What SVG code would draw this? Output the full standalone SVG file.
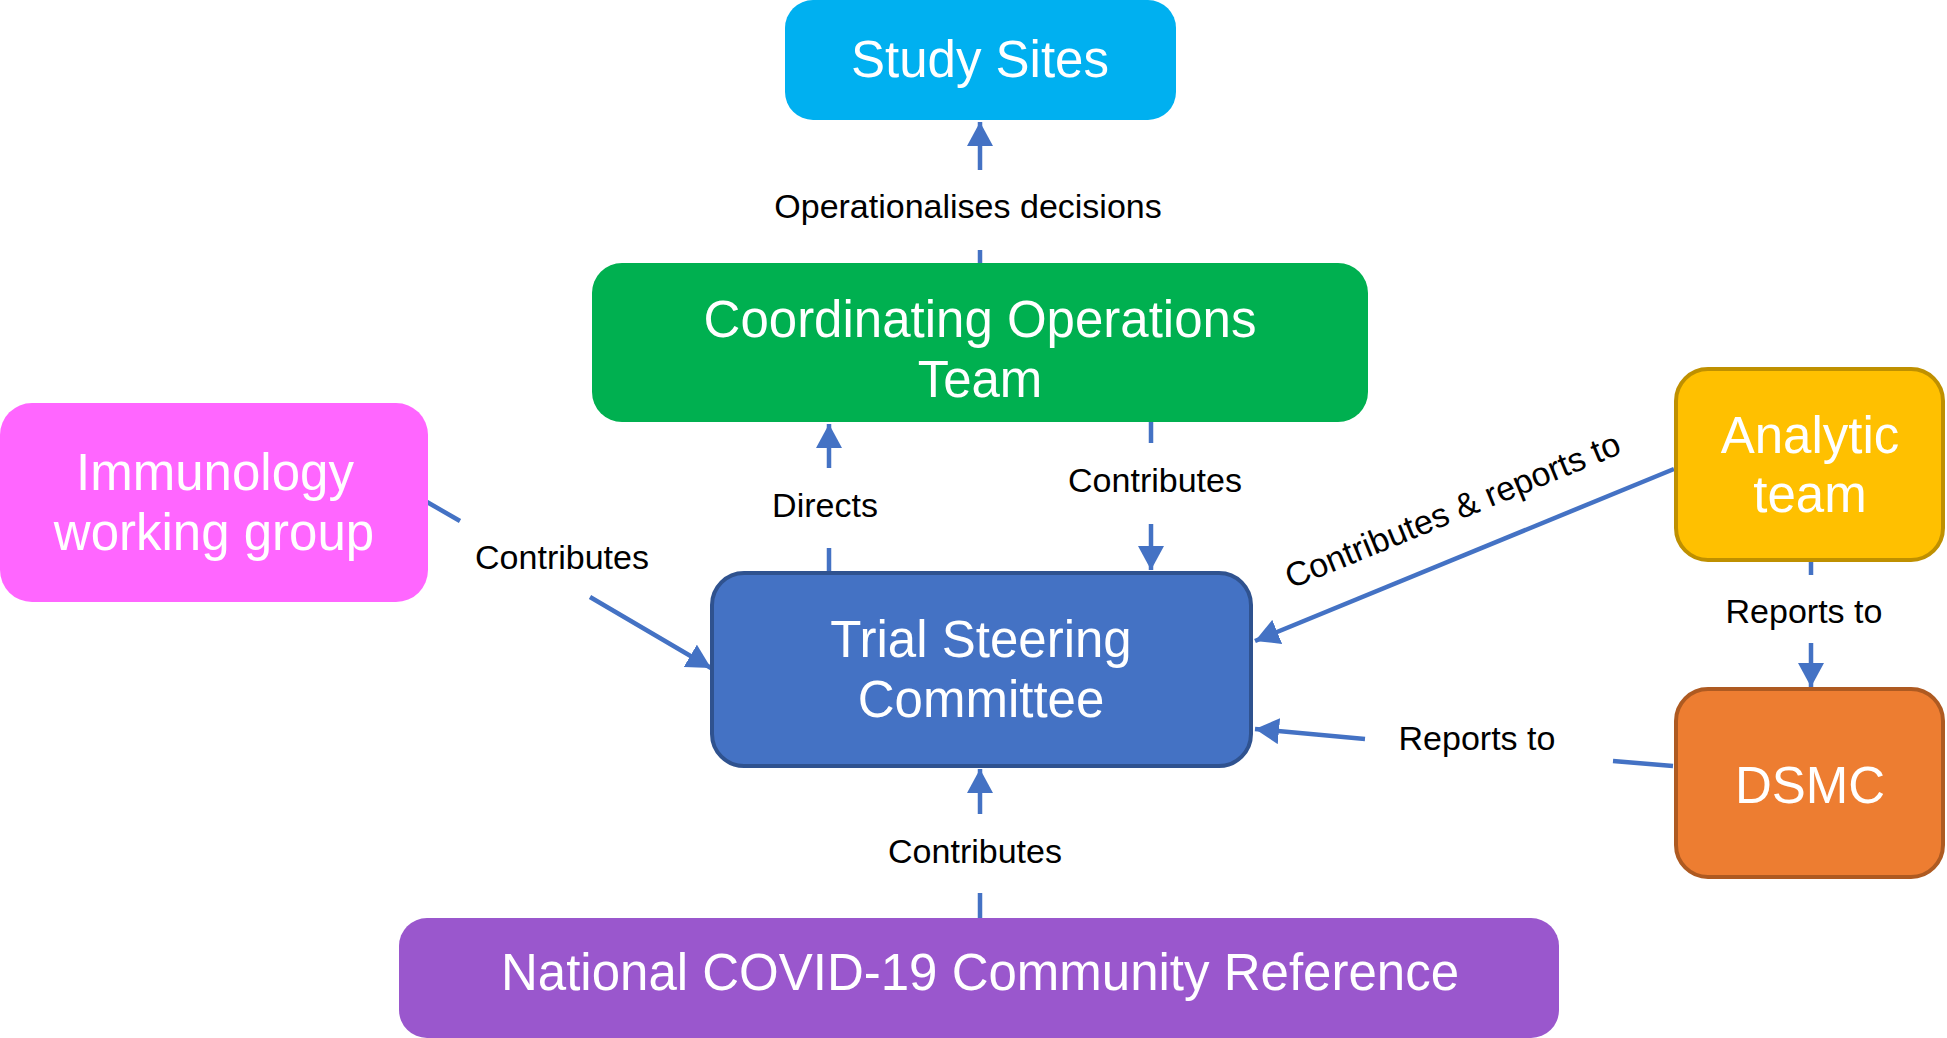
<svg xmlns="http://www.w3.org/2000/svg" width="1947" height="1038" viewBox="0 0 1947 1038">
  <style>
    .node-text { font-family: "Liberation Sans", Arial, sans-serif; font-size: 51px; fill: #FFFFFF; text-anchor: middle; }
    .label { font-family: "Liberation Sans", Arial, sans-serif; font-size: 34px; fill: #000000; text-anchor: middle; }
    .conn { fill: none; stroke: #4472C4; stroke-width: 4.5; }
  </style>
  <defs>
    <marker id="arrow" markerUnits="userSpaceOnUse" markerWidth="26" markerHeight="26" refX="24" refY="13" orient="auto">
      <path d="M0,0 L24,13 L0,26 Z" fill="#4472C4"/>
    </marker>
  </defs>
  <rect width="1947" height="1038" fill="#FFFFFF"/>

  <g id="connectors">
    <path class="conn" d="M980,263 L980,250 M980,170 L980,122" marker-end="url(#arrow)"/>
    <text class="label" x="968" y="218">Operationalises decisions</text>

    <path class="conn" d="M829,571 L829,548 M829,468 L829,424" marker-end="url(#arrow)"/>
    <text class="label" x="825" y="517">Directs</text>

    <path class="conn" d="M1151,422 L1151,443 M1151,524 L1151,570" marker-end="url(#arrow)"/>
    <text class="label" x="1155" y="492">Contributes</text>

    <path class="conn" d="M427,502 L460,521 M590,597 L711,668" marker-end="url(#arrow)"/>
    <text class="label" x="562" y="569">Contributes</text>

    <path class="conn" d="M1674,469 L1255,641" marker-end="url(#arrow)"/>
    <text class="label" transform="translate(1457,521) rotate(-22.3)" x="0" y="0">Contributes &amp; reports to</text>

    <path class="conn" d="M1811,562 L1811,575 M1811,643 L1811,687" marker-end="url(#arrow)"/>
    <text class="label" x="1804" y="623">Reports to</text>

    <path class="conn" d="M1673,766 L1613,761 M1365,739 L1255,729" marker-end="url(#arrow)"/>
    <text class="label" x="1477" y="750">Reports to</text>

    <path class="conn" d="M980,918 L980,893 M980,814 L980,769" marker-end="url(#arrow)"/>
    <text class="label" x="975" y="863">Contributes</text>
  </g>

  <g id="study-sites">
    <rect x="785" y="0" width="391" height="120" rx="28" fill="#00B0F0"/>
    <text class="node-text" x="980" y="77">Study Sites</text>
  </g>

  <g id="coordinating-operations-team">
    <rect x="592" y="263" width="776" height="159" rx="30" fill="#00B050"/>
    <text class="node-text" x="980" y="337">Coordinating Operations</text>
    <text class="node-text" x="980" y="397">Team</text>
  </g>

  <g id="trial-steering-committee">
    <rect x="712" y="573" width="539" height="193" rx="32" fill="#4472C4" stroke="#2F528F" stroke-width="4"/>
    <text class="node-text" x="981" y="657">Trial Steering</text>
    <text class="node-text" x="981" y="717">Committee</text>
  </g>

  <g id="immunology-working-group">
    <rect x="0" y="403" width="428" height="199" rx="32" fill="#FF66FF"/>
    <text class="node-text" x="215" y="490">Immunology</text>
    <text class="node-text" x="214" y="550">working group</text>
  </g>

  <g id="analytic-team">
    <rect x="1676" y="369" width="267" height="191" rx="32" fill="#FFC000" stroke="#BF9000" stroke-width="4"/>
    <text class="node-text" x="1810" y="453">Analytic</text>
    <text class="node-text" x="1810" y="512">team</text>
  </g>

  <g id="dsmc">
    <rect x="1676" y="689" width="267" height="188" rx="32" fill="#ED7D31" stroke="#AE5A21" stroke-width="4"/>
    <text class="node-text" x="1810" y="803">DSMC</text>
  </g>

  <g id="national-covid-19-community-reference">
    <rect x="399" y="918" width="1160" height="120" rx="28" fill="#9A57CD"/>
    <text class="node-text" x="980" y="990">National COVID-19 Community Reference</text>
  </g>
</svg>
